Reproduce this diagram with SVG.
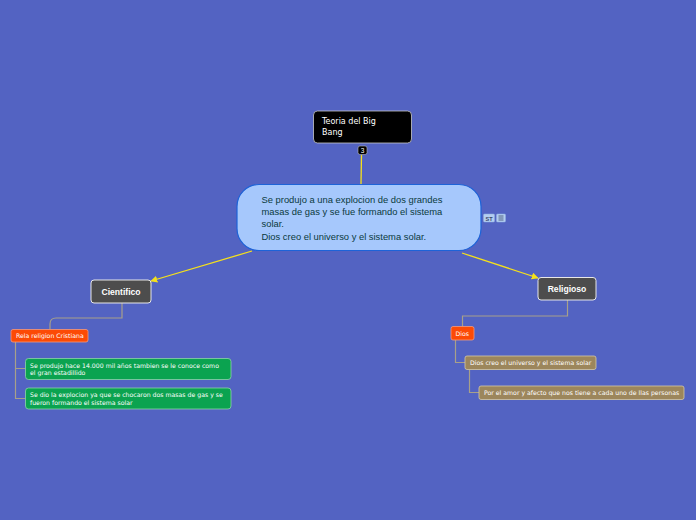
<svg xmlns="http://www.w3.org/2000/svg" width="696" height="520" viewBox="0 0 696 520">
<defs>
<marker id="arr" viewBox="0 0 10 10" refX="9" refY="5" markerWidth="7" markerHeight="7" orient="auto" markerUnits="userSpaceOnUse">
<path d="M0,0 L10,5 L0,10 z" fill="#f5e11b"/>
</marker>
<style>
text{font-family:"Liberation Sans",Arial,sans-serif}
.yl{stroke:#f5e11b;stroke-width:1.3;fill:none}
.gl{stroke:#a7a08a;stroke-width:1.2;fill:none}
.main{fill:#4d4d4d;stroke:#e8e8e8;stroke-width:1}
.mt{fill:#fff;font-weight:bold;font-size:8.6px;text-anchor:middle}
.red{fill:#fc4a06;stroke:#f59b7c;stroke-width:0.8}
.grn{fill:#0ba350;stroke:#8ed3a8;stroke-width:0.8}
.tan{fill:#9c865c;stroke:#d6c9a6;stroke-width:0.8}
.st{fill:#fff;font-size:6.2px;font-family:"DejaVu Sans",Verdana,sans-serif}
.tt{fill:#fff;font-size:8px;font-family:"DejaVu Sans",Verdana,sans-serif}
</style>
</defs>
<rect width="696" height="520" fill="#5363c2"/>
<g id="connectors">
<line class="yl" x1="361.5" y1="155" x2="361" y2="184"/>
<line class="yl" x1="252" y1="251" x2="151" y2="281" marker-end="url(#arr)"/>
<line class="yl" x1="462" y1="253" x2="538" y2="278" marker-end="url(#arr)"/>
<path class="gl" d="M122,303 V318 H56 Q50,318 50,324 V329"/>
<path class="gl" d="M15.5,342 V368.5 H25 M15.5,368 V398.5 H25"/>
<path class="gl" d="M567.5,300 V316 H462.5 V326.5"/>
<path class="gl" d="M455.5,340 V362.5 H465"/>
<path class="gl" d="M469.5,369.5 V392.5 H479"/>
</g>
<g id="teoria">
<rect x="313.5" y="111" width="98" height="32" rx="4" fill="#000" stroke="#c8c8c8" stroke-width="0.8"/>
<text class="tt" x="322" y="124">Teoria del Big</text>
<text class="tt" x="322" y="135">Bang</text>
<rect x="358" y="146" width="9" height="8.5" rx="2" fill="#000" stroke="#bbb" stroke-width="0.6"/>
<text x="362.5" y="153" fill="#fff" font-size="6.5" text-anchor="middle">3</text>
</g>
<g id="central">
<rect x="237" y="184.5" width="244" height="66" rx="22" fill="#a6c8fc" stroke="#1d63d8" stroke-width="1.2"/>
<text fill="#0a3a3c" font-size="9.4">
<tspan x="261.5" y="202.5">Se produjo a una explocion de dos grandes</tspan>
<tspan x="261.5" y="214.7">masas de gas y se fue formando el sistema</tspan>
<tspan x="261.5" y="227">solar.</tspan>
<tspan x="261.5" y="239.5">Dios creo el universo y el sistema solar.</tspan>
</text>
<rect x="483.5" y="214" width="11" height="8" rx="1" fill="#b3cdf0" stroke="#8fb0e0" stroke-width="0.5"/>
<text x="489" y="220.6" fill="#3a4a6a" font-size="5.5" text-anchor="middle" font-weight="bold">ST</text>
<rect x="496.5" y="214" width="9" height="8" rx="1" fill="#b3cdf0" stroke="#8fb0e0" stroke-width="0.5"/>
<path d="M498.5,216 h5 M498.5,218 h5 M498.5,220 h5" stroke="#3a4a6a" stroke-width="0.8"/>
</g>
<g id="cientifico">
<rect class="main" x="91" y="280" width="60" height="23" rx="3"/>
<text class="mt" x="121" y="294.7">Cientifico</text>
</g>
<g id="rela">
<rect class="red" x="11" y="329.5" width="77" height="12.5" rx="2"/>
<text class="st" x="16" y="338.2">Rela religion Cristiana</text>
</g>
<g id="g1">
<rect class="grn" x="25.5" y="358.5" width="205.5" height="21" rx="3"/>
<text class="st" x="30" y="367.7">Se produjo hace 14.000 mil años tambien se le conoce como</text>
<text class="st" x="30" y="375.2">el gran estadillido</text>
</g>
<g id="g2">
<rect class="grn" x="25.5" y="388" width="205.5" height="21" rx="3"/>
<text class="st" x="30" y="397.2">Se dio la explocion ya que se chocaron dos masas de gas y se</text>
<text class="st" x="30" y="404.7">fueron formando el sistema solar</text>
</g>
<g id="religioso">
<rect class="main" x="538" y="277.5" width="58" height="22.5" rx="3"/>
<text class="mt" x="567" y="292">Religioso</text>
</g>
<g id="dios">
<rect class="red" x="451" y="326.5" width="23" height="13.5" rx="2"/>
<text class="st" x="455.5" y="335.6">Dios</text>
</g>
<g id="dioscreo">
<rect class="tan" x="465" y="356" width="131" height="13.5" rx="2"/>
<text class="st" x="470" y="365.2">Dios creo el universo y el sistema solar</text>
</g>
<g id="poramor">
<rect class="tan" x="479" y="386" width="205" height="13.5" rx="2"/>
<text class="st" x="484" y="395.2">Por el amor y afecto que nos tiene a cada uno de llas personas</text>
</g>
</svg>
